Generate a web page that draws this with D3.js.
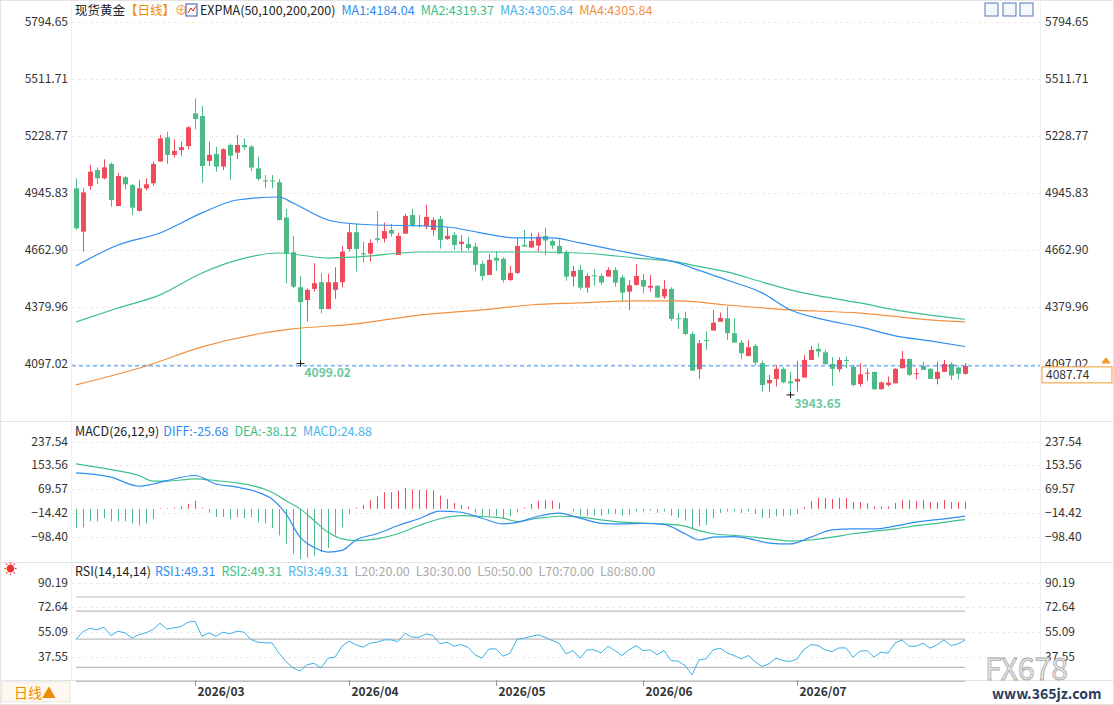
<!DOCTYPE html>
<html><head><meta charset="utf-8">
<script src="https://cdn.jsdelivr.net/npm/d3@7"></script>
<style>
body{margin:0;background:#fff;font-family:"Noto Sans CJK SC","Noto Sans",sans-serif;}
svg text{font-family:"Noto Sans CJK SC","Liberation Sans",sans-serif;}
</style></head><body>
<svg id="c" width="1114" height="705"></svg>
<script>
// daily candles [open, high, low, close]
var ohlc = [
[4969,5019,4762,4771],[4754,4969,4655,4949],[4981,5085,4961,5052],[5060,5073,4989,5019],[5019,5113,5014,5073],
[5090,5097,4878,4911],[4881,5044,4881,5030],[5024,5030,4964,4989],[4986,4991,4837,4873],[4857,5011,4853,4969],
[4969,5019,4958,4989],[4994,5102,4981,5090],[5102,5234,5102,5217],[5222,5250,5090,5135],[5135,5212,5122,5155],
[5159,5201,5130,5173],[5179,5278,5163,5272],[5341,5416,5262,5313],[5328,5378,4997,5080],[5105,5201,5080,5135],
[5140,5176,5052,5077],[5077,5168,5060,5163],[5184,5192,5011,5131],[5146,5234,5115,5184],[5184,5217,5159,5173],
[5176,5184,5055,5072],[5068,5126,5007,5016],[5008,5035,4969,5005],[5008,5035,4969,5005],[4999,5014,4809,4812],
[4824,4867,4498,4647],[4652,4733,4473,4481],[4478,4534,4099.02,4404],[4415,4473,4308,4465],[4470,4597,4457,4498],
[4503,4547,4349,4370],[4370,4544,4369,4503],[4465,4577,4420,4503],[4503,4683,4478,4655],[4668,4796,4655,4751],
[4751,4796,4556,4668],[4647,4704,4600,4641],[4645,4716,4605,4698],[4721,4857,4700,4713],[4719,4799,4700,4757],
[4762,4792,4729,4744],[4638,4749,4638,4733],[4744,4842,4744,4832],[4837,4867,4779,4784],[4787,4837,4774,4782],
[4782,4887,4767,4827],[4762,4825,4734,4812],[4817,4832,4670,4713],[4718,4776,4713,4733],[4738,4752,4663,4688],
[4693,4738,4658,4704],[4693,4728,4663,4673],[4680,4700,4556,4589],[4594,4610,4511,4534],[4539,4643,4539,4614],
[4624,4658,4559,4610],[4619,4627,4501,4514],[4514,4584,4509,4549],[4549,4724,4544,4683],[4688,4762,4680,4680],
[4675,4749,4675,4708],[4685,4749,4655,4729],[4733,4774,4638,4710],[4708,4716,4668,4685],[4683,4716,4645,4645],
[4653,4663,4511,4531],[4531,4584,4481,4559],[4564,4589,4465,4476],[4476,4547,4451,4534],[4537,4569,4485,4534],
[4534,4547,4490,4501],[4531,4577,4531,4564],[4564,4577,4481,4501],[4527,4539,4404,4451],[4456,4514,4365,4488],
[4490,4594,4485,4534],[4514,4544,4448,4481],[4476,4539,4456,4485],[4485,4490,4427,4427],[4432,4514,4420,4470],
[4470,4478,4311,4321],[4324,4349,4270,4321],[4324,4357,4241,4246],[4246,4258,4064,4064],[4071,4216,4023,4200],
[4216,4258,4167,4211],[4263,4365,4263,4302],[4307,4352,4307,4326],[4324,4382,4216,4250],[4250,4324,4203,4203],
[4203,4216,4121,4150],[4137,4216,4134,4180],[4187,4197,4092,4104],[4101,4114,3960,3993],[4001,4043,3960,4018],
[4023,4092,3985,4073],[4073,4081,4001,4006],[4011,4059,3943.65,4001],[4010,4112,3960,4023],[4030,4142,4030,4117],
[4117,4187,4117,4167],[4172,4200,4130,4159],[4155,4167,4092,4097],[4097,4130,3988,4073],[4071,4130,4056,4117],
[4117,4134,4076,4115],[4084,4092,3985,3993],[3998,4101,3985,4046],[4051,4076,4013,4054],[4058,4058,3968,3972],
[3972,4010,3968,4006],[3993,4035,3985,4005],[4001,4076,4001,4073],[4076,4162,4076,4122],[4122,4125,4038,4043],
[4048,4076,4021,4051],[4087,4109,4068,4068],[4073,4076,4023,4023],[4023,4109,3996,4058],[4058,4117,4058,4097],
[4097,4106,4018,4040],[4079,4084,4021,4048],[4048,4101,4043,4087.74]
];

// EXPMA lines read at sample candles
var ma1Idx = [0,6,12,18,23,29,31,36,40,53,58,63,68,72,77,82,86,88,93,98,102,107,112,117,122,127];
var ma1Val = [4584,4688,4747,4847,4911,4926,4896,4812,4792,4777,4747,4723,4723,4698,4663,4628,4599,4574,4514,4450,4366,4316,4281,4237,4212,4184];
var ma2Idx = [0,6,12,18,23,29,36,40,49,58,65,72,80,86,88,93,98,102,107,112,117,122,127];
var ma2Val = [4306,4375,4440,4549,4613,4648,4623,4628,4653,4653,4653,4648,4623,4603,4588,4554,4504,4465,4430,4400,4366,4340,4319];
var ma3Idx = [0,10,18,26,31,40,49,58,65,72,80,86,93,102,112,122,127];
var ma3Val = [3993,4087,4182,4246,4271,4296,4340,4366,4390,4400,4410,4410,4390,4366,4350,4316,4306];

// MACD
var macdHist = [-67,-65,-44,-44,-33,-44,-44,-44,-51,-59,-51,-35,2,2,4,9,18,29,4,-14,-29,-29,-35,-29,-33,-29,-47,-51,-67,-94,
-124,-159,-177,-173,-165,-153,-138,-94,-65,-18,4,14,32,44,59,59,65,74,68,67,67,65,47,35,21,14,8,-14,-26,-26,
-26,-33,-26,-12,4,18,29,32,29,21,1,-9,-24,-24,-24,-24,-18,-18,-24,-21,-9,-9,-6,-14,-9,-24,-32,-41,-68,-61,
-57,-33,-14,-9,-9,-14,-9,-18,-32,-33,-26,-26,-24,-18,6,27,39,39,35,39,39,24,24,20,9,9,9,21,32,32,28,32,24,24,32,24,24,24.88];
var lineIdx = [0,5,9,11,13,17,20,23,26,28,30,32,34,36,38,40,43,46,49,52,55,58,61,63,66,69,72,75,78,81,84,87,89,91,94,97,99,102,105,108,111,114,117,120,123,126,127];
var diffVal = [127,112,80,88,100,118,88,77,59,35,-18,-100,-136,-153,-147,-110,-88,-59,-35,-8,-12,-33,-53,-48,-26,-15,-33,-51,-53,-51,-55,-88,-110,-100,-98,-110,-121,-124,-100,-74,-71,-71,-61,-47,-38,-29,-25.68];
var deaVal = [159,139,118,98,98,106,100,92,77,59,29,0,-41,-83,-106,-112,-106,-88,-59,-35,-24,-27,-33,-45,-33,-26,-29,-39,-47,-51,-53,-61,-77,-88,-94,-100,-106,-114,-110,-100,-88,-79,-71,-59,-51,-41,-38.12];

// RSI(14)
var rsi = [50,55.4,57.8,56.6,58.5,52.6,55.7,54.5,50.7,53.3,54.5,56.9,61.4,57.1,58.1,59,62.1,62.8,52.1,54.5,
52.1,55,53.8,55.7,55,49.8,47.9,47.4,47.4,40,34.1,29.6,27.3,31.8,32.9,29.4,36.5,37.2,45,48.6,
46,44.3,47.2,47.9,49.5,49.5,48.3,54.3,51.4,51.4,53.8,52.6,46.7,47.9,45,46.2,44.3,38.9,36.5,43.1,
43.1,37.9,40,50,50.7,51.9,53.1,51.4,49.1,47.2,39.6,41.9,36.5,42.4,42.4,40.3,45,41.9,38.4,42.4,
45.5,41.9,42.4,38.9,41.9,34.8,34.4,31.3,24.6,35.3,36,42.4,43.6,40.3,38.4,36,38.4,34.1,30.6,32.5,
36.5,34.8,34.1,36,42.7,46.2,45.5,42.4,41.2,43.8,43.8,37.2,41.5,41.9,37.2,40.8,40,47.2,49.5,45,
45,47.2,43.6,46,49.5,45.5,46.7,49.31];
var rsiLevels = [80,70,50,30,20];

var priceTicks = [5794.65,5511.71,5228.77,4945.83,4662.90,4379.96,4097.02];
var macdTicks = [237.54,153.56,69.57,-14.42,-98.40];
var rsiTicks = [90.19,72.64,55.09,37.55];
var monthTicks = [{i:17,t:"2026/03"},{i:39,t:"2026/04"},{i:60,t:"2026/05"},{i:81,t:"2026/06"},{i:103,t:"2026/07"}];
var lastPrice = 4087.74;

var UP = "#ee4b5b", DN = "#4dbb85", BLUE = "#2f8ef0", GREEN = "#3cc08a", LBLUE = "#4ab6e8", ORANGE = "#f39040";
var svg = d3.select("#c");
var x = d3.scaleLinear().domain([0, ohlc.length - 1]).range([76, 965]);
var y = d3.scaleLinear().domain([4097.02, 5794.65]).range([364, 22]);
var ym = d3.scaleLinear().domain([-98.40, 237.54]).range([536.7, 441.7]);
var yr = d3.scaleLinear().domain([37.55, 90.19]).range([656.7, 582.7]);

// frame
svg.append("rect").attr("x",0.5).attr("y",0.5).attr("width",1113).attr("height",704).attr("fill","none").attr("stroke","#e4e4e4");
[421, 562, 680].forEach(function(v){
  svg.append("line").attr("x1",0).attr("x2",1114).attr("y1",v+0.5).attr("y2",v+0.5).attr("stroke","#e2e2e2");
});
[71, 1040].forEach(function(v){
  svg.append("line").attr("x1",v+0.5).attr("x2",v+0.5).attr("y1",0).attr("y2",680).attr("stroke","#eef0f4");
});

function axisLabels(ticks, sc, fmt){
  ticks.forEach(function(t){
    svg.append("line").attr("x1",72).attr("x2",1040).attr("y1",Math.round(sc(t))+0.5).attr("y2",Math.round(sc(t))+0.5)
      .attr("stroke","#ececec").attr("stroke-dasharray","3,3");
    svg.append("text").attr("x",68).attr("y",sc(t)+4).attr("text-anchor","end").attr("font-size",12).attr("fill","#333").text(fmt(t));
    svg.append("text").attr("x",1045).attr("y",sc(t)+4).attr("font-size",12).attr("fill","#333").text(fmt(t));
  });
}
var f2 = d3.format(".2f");
axisLabels(priceTicks, y, f2);
axisLabels(macdTicks, ym, f2);
axisLabels(rsiTicks, yr, f2);

// headers
function header(yy, parts){
  var t = svg.append("text").attr("x",75).attr("y",yy).attr("font-size",12.5);
  parts.forEach(function(p){ t.append("tspan").attr("fill",p[1]).attr("dx",p[2]||0).text(p[0]); });
}
header(15, [["现货黄金","#222"],["【日线】","#f08c00"],["⊕",ORANGE],["",""]]);
svg.append("rect").attr("x",186).attr("y",4).attr("width",11).attr("height",12).attr("fill","#fff").attr("stroke","#3355aa");
svg.append("path").attr("d","M188,13 L191,8 L193,11 L196,6").attr("fill","none").attr("stroke","#d22");
header(15, [["EXPMA(50,100,200,200)","#222",125],["MA1:4184.04",BLUE,6],["MA2:4319.37",GREEN,6],["MA3:4305.84",LBLUE,6],["MA4:4305.84",ORANGE,6]]);
header(436, [["MACD(26,12,9)","#222"],["DIFF:-25.68",BLUE,4],["DEA:-38.12",GREEN,6],["MACD:24.88",LBLUE,6]]);
header(576, [["RSI(14,14,14)","#222"],["RSI1:49.31",BLUE,4],["RSI2:49.31",GREEN,6],["RSI3:49.31",LBLUE,6],
  ["L20:20.00","#aaa",6],["L30:30.00","#aaa",6],["L50:50.00","#aaa",6],["L70:70.00","#aaa",6],["L80:80.00","#aaa",6]]);
svg.append("text").attr("x",4).attr("y",573).attr("font-size",13).attr("fill","#e33").text("☀");

// top right icons
[985,1003,1020].forEach(function(v){
  svg.append("rect").attr("x",v).attr("y",3).attr("width",13).attr("height",13).attr("fill","#f4f7fc").attr("stroke","#5577bb");
});

// candles
var cw = 5;
svg.append("g").selectAll("g").data(ohlc).enter().append("g").each(function(d,i){
  var g = d3.select(this), col = d[3] >= d[0] ? UP : DN, cx = Math.round(x(i)) + 0.5;
  g.append("line").attr("x1",cx).attr("x2",cx).attr("y1",y(d[1])).attr("y2",y(d[2])).attr("stroke",col);
  var top = y(Math.max(d[0],d[3])), h = Math.max(1, y(Math.min(d[0],d[3])) - top);
  g.append("rect").attr("x",cx-cw/2).attr("y",top).attr("width",cw).attr("height",h).attr("fill",col);
});

// EXPMA lines
function sampled(idx, vals, sc, col){
  svg.append("path").datum(idx.map(function(k,j){return [k, vals[j]];}))
    .attr("fill","none").attr("stroke",col).attr("stroke-width",1.2)
    .attr("d", d3.line().x(function(d){return x(d[0]);}).y(function(d){return sc(d[1]);}).curve(d3.curveMonotoneX));
}
sampled(ma3Idx, ma3Val, y, ORANGE);
sampled(ma2Idx, ma2Val, y, GREEN);
sampled(ma1Idx, ma1Val, y, BLUE);

// last price line
svg.append("line").attr("x1",72).attr("x2",1040).attr("y1",y(lastPrice)).attr("y2",y(lastPrice))
  .attr("stroke",BLUE).attr("stroke-dasharray","4,3");
svg.append("rect").attr("x",1042).attr("y",y(lastPrice)+1).attr("width",70).attr("height",16).attr("fill","#fff").attr("stroke","#f39a2c");
svg.append("text").attr("x",1046).attr("y",y(lastPrice)+13).attr("font-size",12).attr("fill","#333").text(f2(lastPrice));
svg.append("path").attr("d","M1102,"+(y(lastPrice)-3)+" l4,-5 l4,5 z M1103,"+(y(lastPrice)-3)+" h6").attr("fill","#f39a2c").attr("stroke","#f39a2c");

// low markers
[[32,"4099.02"],[102,"3943.65"]].forEach(function(m){
  var d = ohlc[m[0]], px = Math.round(x(m[0]))+0.5, py = y(d[2]);
  svg.append("path").attr("d","M"+(px-4)+","+py+" h8 M"+px+","+(py-3)+" v6").attr("stroke","#111");
  svg.append("text").attr("x",px+4).attr("y",py+13).attr("font-size",12).attr("font-weight","bold").attr("fill","#6cc7a0").text(m[1]);
});

// MACD histogram
svg.append("g").selectAll("line").data(macdHist).enter().append("line")
  .attr("x1",function(d,i){return Math.round(x(i))+0.5;}).attr("x2",function(d,i){return Math.round(x(i))+0.5;})
  .attr("y1",ym(0)).attr("y2",function(d){return ym(d);})
  .attr("stroke",function(d){return d >= 0 ? UP : DN;});
sampled(lineIdx, deaVal, ym, GREEN);
sampled(lineIdx, diffVal, ym, BLUE);

// RSI
rsiLevels.forEach(function(l){
  svg.append("line").attr("x1",76).attr("x2",965).attr("y1",yr(l)).attr("y2",yr(l)).attr("stroke","#bdbdbd").attr("stroke-width",1.2);
});
svg.append("path").datum(rsi).attr("fill","none").attr("stroke","#3bb2e6").attr("stroke-width",1)
  .attr("d", d3.line().x(function(d,i){return x(i);}).y(function(d){return yr(d);}));

// date axis
monthTicks.forEach(function(m){
  var px = Math.round(x(m.i))+0.5;
  svg.append("line").attr("x1",px).attr("x2",px).attr("y1",680).attr("y2",686).attr("stroke","#999");
  svg.append("text").attr("x",px+2).attr("y",696).attr("font-size",12).attr("font-weight","bold").attr("fill","#333").text(m.t);
});
svg.append("rect").attr("x",2).attr("y",682).attr("width",68).attr("height",20).attr("fill","#fff8f0").attr("stroke","#e6e6e6");
svg.append("text").attr("x",14).attr("y",698).attr("font-size",14).attr("fill","#f08c00").text("日线▲");

// watermark
svg.append("text").attr("x",985).attr("y",680).attr("font-size",30).attr("font-family","Liberation Sans").attr("fill","#e6e6e6")
  .attr("stroke","#aaa").attr("stroke-width",0.8).text("FX678");
svg.append("text").attr("x",992).attr("y",699).attr("font-size",14).attr("font-weight","bold").attr("fill","#2b3a5c").text("www.365jz.com");
</script></body></html>
